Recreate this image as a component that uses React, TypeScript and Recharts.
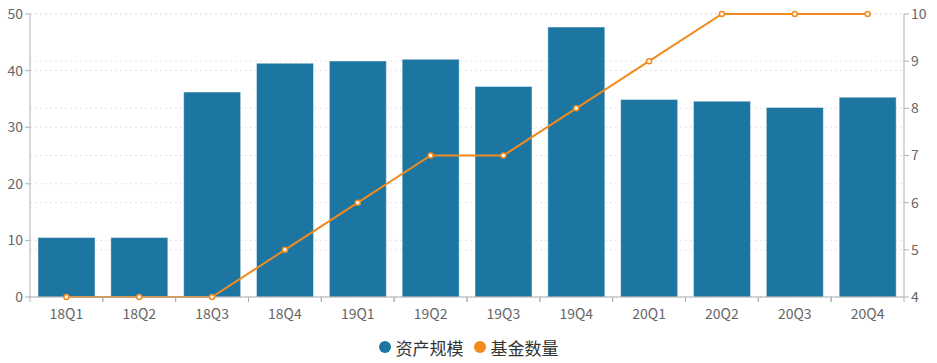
import React from 'react'
import {
    ComposedChart,
    Bar,
    Line,
    XAxis,
    YAxis,
    CartesianGrid,
    Legend
} from 'recharts'

const QUARTERS = ['18Q1', '18Q2', '18Q3', '18Q4', '19Q1', '19Q2', '19Q3', '19Q4', '20Q1', '20Q2', '20Q3', '20Q4']
const ASSET_SCALE = [10.5, 10.5, 36.2, 41.3, 41.7, 42.0, 37.2, 47.7, 34.9, 34.6, 33.5, 35.3]
const FUND_COUNT = [4, 4, 4, 5, 6, 7, 7, 8, 9, 10, 10, 10]
const LEFT_TICKS = [0, 10, 20, 30, 40, 50]
const RIGHT_TICKS = [4, 5, 6, 7, 8, 9, 10]

const BLUE = '#1d76a1'
const ORANGE = '#f28a1d'
const AXIS = '#b0b0b0'
const FONT = '"Noto Sans CJK SC", "Noto Sans", sans-serif'

const data = QUARTERS.map((q, i) => ({ name: q, asset: ASSET_SCALE[i], funds: FUND_COUNT[i] }))

const WIDTH = 937
const HEIGHT = 363
const LEFT_W = 30
const RIGHT_W = 33
const BAND = (WIDTH - LEFT_W - RIGHT_W) / QUARTERS.length

// category-style tick: label in the band centre, tick marks on the band edges
function BandTick(props: any) {
    const { x, y, payload } = props
    return (
        <g>
            <line x1={x - BAND / 2} y1={y - 8} x2={x - BAND / 2} y2={y - 3} stroke={AXIS} />
            <line x1={x + BAND / 2} y1={y - 8} x2={x + BAND / 2} y2={y - 3} stroke={AXIS} />
            <text x={x} y={y + 14} textAnchor="middle" fill="#666" fontSize={14} fontFamily={FONT}>
                {payload.value}
            </text>
        </g>
    )
}

function LegendContent() {
    const items = [
        { label: '资产规模', color: BLUE },
        { label: '基金数量', color: ORANGE }
    ]
    return (
        <div style={{ display: 'flex', justifyContent: 'center', alignItems: 'center', height: 30, gap: 10 }}>
            {items.map(it => (
                <div key={it.label} style={{ display: 'flex', alignItems: 'center', gap: 5 }}>
                    <span style={{ width: 12, height: 12, borderRadius: 6, background: it.color, display: 'inline-block' }} />
                    <span style={{ fontSize: 17, color: '#333', fontFamily: FONT }}>{it.label}</span>
                </div>
            ))}
        </div>
    )
}

export default function App() {
    return (
        <div style={{ position: 'absolute', left: 0, top: 0, background: '#fff' }}>
            <ComposedChart
                width={WIDTH}
                height={HEIGHT}
                data={data}
                margin={{ top: 14, right: 0, left: 0, bottom: 6 }}
            >
                <CartesianGrid yAxisId="left" vertical={false} stroke="#e3e3e3" strokeDasharray="2 3" />
                <CartesianGrid yAxisId="right" vertical={false} stroke="#e3e3e3" strokeDasharray="2 3" />
                <XAxis
                    dataKey="name"
                    height={30}
                    interval={0}
                    tickLine={false}
                    stroke={AXIS}
                    tick={<BandTick />}
                />
                <YAxis
                    yAxisId="left"
                    width={LEFT_W}
                    domain={[0, 50]}
                    ticks={LEFT_TICKS}
                    stroke={AXIS}
                    tickSize={5}
                    tick={{ fill: '#666', fontSize: 14, fontFamily: FONT }}
                />
                <YAxis
                    yAxisId="right"
                    orientation="right"
                    width={RIGHT_W}
                    domain={[4, 10]}
                    ticks={RIGHT_TICKS}
                    stroke={AXIS}
                    tickSize={5}
                    tick={{ fill: '#666', fontSize: 14, fontFamily: FONT }}
                />
                <Legend verticalAlign="bottom" height={30} wrapperStyle={{ bottom: 1 }} content={<LegendContent />} />
                <Bar
                    yAxisId="left"
                    dataKey="asset"
                    name="资产规模"
                    fill={BLUE}
                    stroke="#ffffff"
                    strokeOpacity={0.45}
                    barSize={57}
                    isAnimationActive={false}
                />
                <Line
                    yAxisId="right"
                    dataKey="funds"
                    name="基金数量"
                    type="linear"
                    stroke={ORANGE}
                    strokeWidth={2}
                    dot={{ r: 2.5, fill: '#fff', stroke: ORANGE, strokeWidth: 1.5 }}
                    isAnimationActive={false}
                />
            </ComposedChart>
        </div>
    )
}
